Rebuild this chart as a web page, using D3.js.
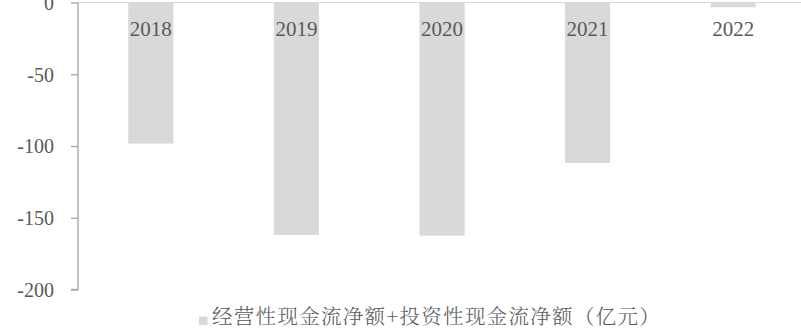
<!DOCTYPE html>
<html>
<head>
<meta charset="utf-8">
<script src="https://cdn.jsdelivr.net/npm/d3@7"></script>
<style>
  html, body { margin: 0; padding: 0; background: #fff; }
  svg { display: block; }
</style>
</head>
<body>
<svg id="chart" width="801" height="329"></svg>
<script>
// Net operating + investing cash flow by year (100 million yuan)
const years = ["2018", "2019", "2020", "2021", "2022"];
const netFlow = [-98.3, -162, -162.5, -111.8, -3.3];
const yTicks = [0, -50, -100, -150, -200];
const legendLabel = "经营性现金流净额+投资性现金流净额（亿元）";

(function draw() {
  const svg = d3.select("#chart");
  const plotLeft = 78, plotRight = 806, plotTop = 2.5, plotBottom = 289.5;

  const x = d3.scaleBand().domain(years).range([plotLeft, plotRight]).paddingInner(0.69).paddingOuter(0.345);
  const y = d3.scaleLinear().domain([-200, 0]).range([plotBottom, plotTop]);

  const serif = "'Liberation Serif', 'Times New Roman', serif";

  // bars hang down from zero
  svg.append("g").selectAll("rect")
    .data(years.map((d, i) => ({ year: d, value: netFlow[i] })))
    .join("rect")
    .attr("x", d => x(d.year))
    .attr("width", x.bandwidth())
    .attr("y", y(0))
    .attr("height", d => y(d.value) - y(0))
    .attr("fill", "#d9d9d9");

  // zero line
  svg.append("line")
    .attr("x1", plotLeft).attr("x2", 801)
    .attr("y1", y(0)).attr("y2", y(0))
    .attr("stroke", "#d9d9d9").attr("stroke-width", 1.2);

  // y axis (plain hyphen for negatives)
  const yAxis = d3.axisLeft(y).tickValues(yTicks).tickSize(7).tickPadding(17).tickFormat(d => String(d));
  const ga = svg.append("g").attr("transform", `translate(${plotLeft},0)`).call(yAxis);
  ga.attr("font-family", null).attr("font-size", null);
  ga.select(".domain").attr("stroke", "#a6a6a6").attr("stroke-width", 1.3).attr("d", `M-7,${plotBottom}H0V${plotTop}`);
  ga.selectAll(".tick line").attr("stroke", "#a6a6a6").attr("stroke-width", 1.3);
  ga.selectAll(".tick text")
    .attr("fill", "#595959")
    .attr("dy", "0.34em")
    .style("font-family", serif)
    .style("font-size", "20px");

  // category labels sit inside the plot near the zero line
  svg.append("g").selectAll("text")
    .data(years)
    .join("text")
    .attr("x", d => x(d) + x.bandwidth() / 2)
    .attr("y", 35.5)
    .attr("text-anchor", "middle")
    .attr("fill", "#595959")
    .style("font-family", serif)
    .style("font-size", "21px")
    .text(d => d);

  // legend
  const lg = svg.append("g").attr("transform", "translate(199,316.5)");
  lg.append("rect").attr("x", 0).attr("y", 0).attr("width", 8.5).attr("height", 8.5).attr("fill", "#d9d9d9");
  lg.append("text")
    .attr("x", 13).attr("y", 7.8)
    .attr("fill", "#595959")
    .style("font-family", "'Noto Serif CJK SC', 'Noto Sans CJK SC', serif")
    .style("font-size", "20.5px")
    .style("font-weight", 300)
    .style("letter-spacing", "1.3px")
    .text(legendLabel);
})();
</script>
</body>
</html>
